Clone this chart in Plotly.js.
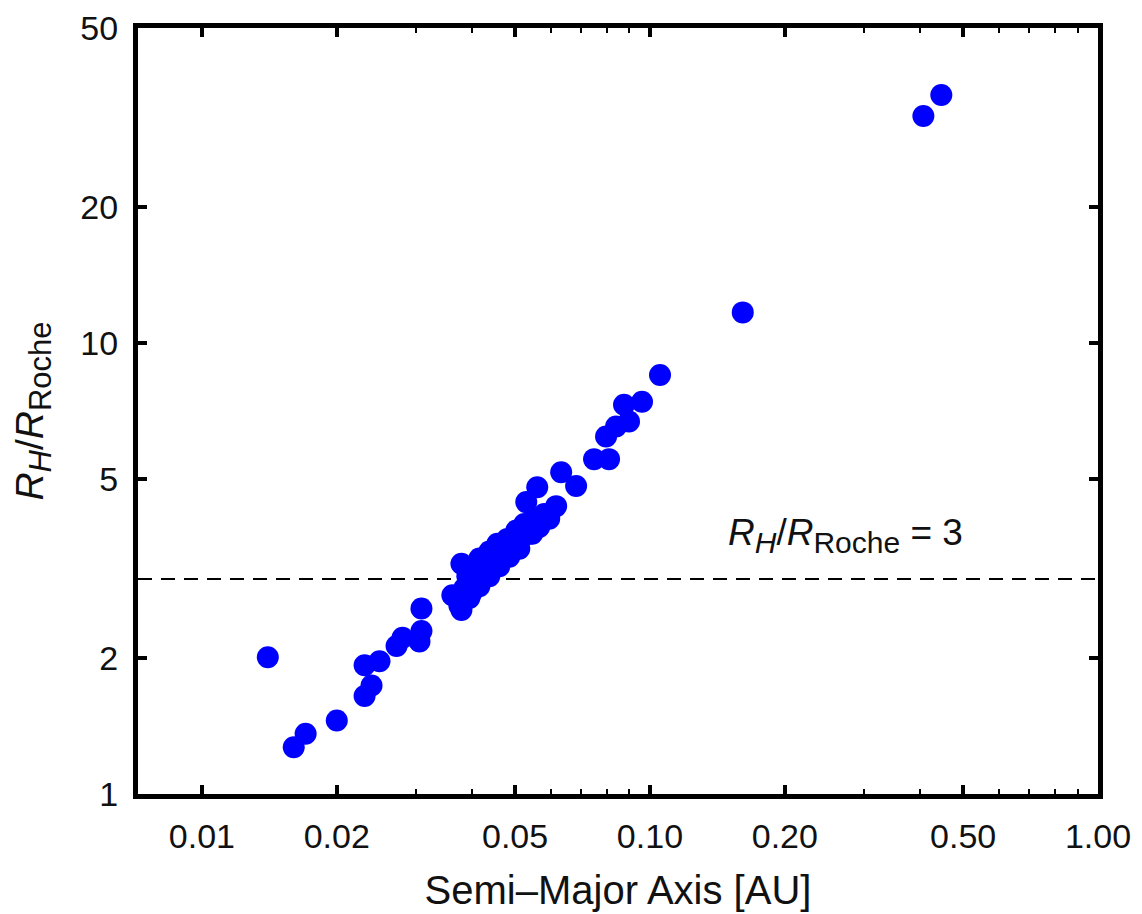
<!DOCTYPE html>
<html>
<head>
<meta charset="utf-8">
<script src="https://cdn.plot.ly/plotly-3.0.1.min.js"></script>
<style>html,body{margin:0;padding:0;background:#fff;}#chart{width:1142px;height:914px;}</style>
</head>
<body>
<div id="chart"></div>
<script>
// Semi-major axis [AU]
const semiMajorAxis = [
  0.01403, 0.01603, 0.01704, 0.0200, 0.02307, 0.02391, 0.02307, 0.02491,
  0.02719, 0.02804, 0.03059, 0.0309, 0.0309,
  0.03622, 0.03755, 0.03795, 0.03795, 0.03912, 0.04055, 0.03994,
  0.04162, 0.04269, 0.04380, 0.04494, 0.04564, 0.04683, 0.04804, 0.04904,
  0.05031, 0.05109, 0.05242, 0.05378, 0.05517, 0.05660, 0.05807,
  0.05296, 0.05603, 0.06175, 0.05958, 0.06336, 0.06842,
  0.07503, 0.08104, 0.0798, 0.08401, 0.0898, 0.08752, 0.09599, 0.1053,
  0.1611, 0.4076, 0.447,
  0.04162, 0.04380, 0.04611, 0.04853, 0.05109, 0.0546, 0.03852, 0.03953
];
// R_H / R_Roche
const hillToRoche = [
  2.01, 1.27, 1.36, 1.455, 1.65, 1.74, 1.93, 1.97,
  2.13, 2.22, 2.18, 2.30, 2.58,
  2.76, 2.62, 2.56, 3.24, 3.04, 2.93, 2.79,
  3.33, 3.16, 3.45, 3.24, 3.59, 3.41, 3.68, 3.50,
  3.84, 3.63, 3.97, 3.78, 4.08, 3.91, 4.18,
  4.44, 4.79, 4.35, 4.08, 5.17, 4.82,
  5.53, 5.53, 6.21, 6.53, 6.70, 7.30, 7.41, 8.50,
  11.7, 31.9, 35.5,
  2.89, 3.04, 3.20, 3.36, 3.50, 3.78, 2.86, 2.72
];
const thresholdValue = 3;
const xTickVals = [0.01, 0.02, 0.05, 0.1, 0.2, 0.5, 1.0];
const xTickText = ["0.01", "0.02", "0.05", "0.10", "0.20", "0.50", "1.00"];
const xMinorVals = [0.03, 0.04, 0.06, 0.07, 0.08, 0.09, 0.3, 0.4, 0.6, 0.7, 0.8, 0.9];
const yTickVals = [1, 2, 5, 10, 20, 50];
const yTickText = ["1", "2", "5", "10", "20", "50"];
const xLimits = [0.0072, 1.0];
const yLimits = [1, 50];
const labelPos = {a: 0.148, v: 3.74};

const FONT = "Liberation Sans, Arial, Helvetica, sans-serif";
const xr = xLimits.map(Math.log10);
const yr = yLimits.map(Math.log10);

function ratioLabel(subSize) {
  return '<i>R</i><sub><span style="font-size:' + subSize + 'px"><i>H</i></span></sub>/<i>R</i><sub><span style="font-size:' + subSize + 'px">Roche</span></sub>';
}

const traces = [
  {
    x: xLimits, y: [thresholdValue, thresholdValue],
    mode: "lines", type: "scatter",
    line: {color: "#000", width: 2, dash: "14px,9px"},
    hoverinfo: "skip", showlegend: false
  },
  {
    x: semiMajorAxis, y: hillToRoche,
    mode: "markers", type: "scatter",
    marker: {color: "#0000ff", size: 22, line: {width: 0}},
    showlegend: false
  }
];

const axisCommon = {
  type: "log",
  showgrid: false, zeroline: false,
  showline: true, linecolor: "#000", linewidth: 5, mirror: "ticks",
  ticks: "inside", ticklen: 9, tickwidth: 4, tickcolor: "#000",
  tickfont: {family: FONT, size: 34, color: "#111"},
  tickmode: "array"
};

const layout = {
  width: 1142, height: 914,
  margin: {l: 138, r: 44, t: 28, b: 120, pad: 0},
  paper_bgcolor: "#fff", plot_bgcolor: "#fff",
  xaxis: Object.assign({}, axisCommon, {
    range: xr, tickvals: xTickVals, ticktext: xTickText,
    minor: {tickmode: "array", tickvals: xMinorVals, ticks: "inside", ticklen: 5, tickwidth: 2, tickcolor: "#000"},
    ticklabelstandoff: 8,
    title: {text: "Semi\u2013Major Axis [AU]", font: {family: FONT, size: 40, color: "#111"}, standoff: 24}
  }),
  yaxis: Object.assign({}, axisCommon, {
    range: yr, tickvals: yTickVals, ticktext: yTickText,
    ticklabelstandoff: 8,
    title: {text: ratioLabel(31), font: {family: FONT, size: 39, color: "#111"}, standoff: 26}
  }),
  annotations: [{
    x: Math.log10(labelPos.a), y: Math.log10(labelPos.v), xref: "x", yref: "y",
    xanchor: "left", yanchor: "middle", showarrow: false,
    text: ratioLabel(30) + " = 3",
    font: {family: FONT, size: 37, color: "#111"}
  }]
};

Plotly.newPlot("chart", traces, layout, {staticPlot: true, displayModeBar: false});
</script>
</body>
</html>
